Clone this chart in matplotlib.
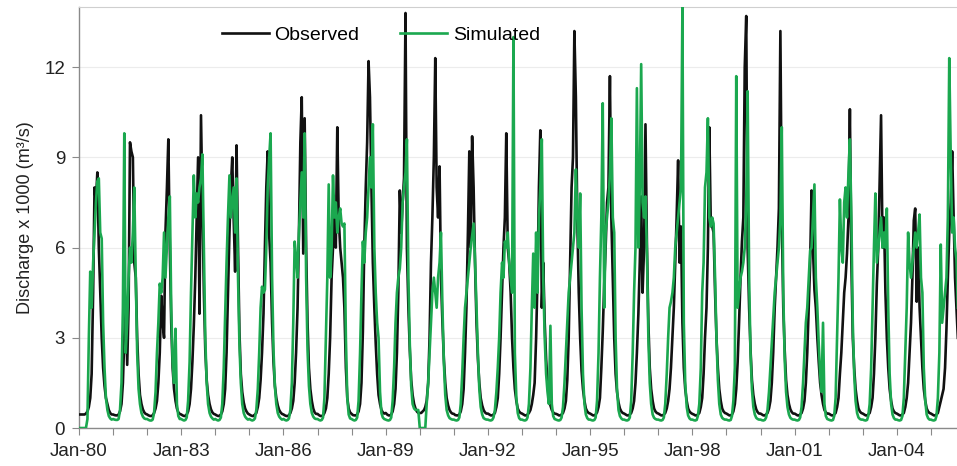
import datetime as dt
import matplotlib
matplotlib.use('Agg')
import matplotlib.pyplot as plt

plt.rcParams['font.family'] = ['Liberation Sans', 'DejaVu Sans']

# discharge x 1000 m3/s, one row per year, values on the 1st and 16th of each month
years = list(range(1980, 2006))

observed = [
    [0.45,0.45,0.45,0.45,0.45,0.48,0.55,0.7,1.0,1.8,4.5,8.0,7.5,8.5,6.0,4.5,3.0,2.0,1.4,1.0,0.8,0.6,0.5,0.45],
    [0.45,0.43,0.42,0.42,0.45,0.55,0.8,1.5,3.0,4.3,2.1,4.0,9.5,9.2,9.0,5.5,5.0,3.0,1.8,1.1,0.8,0.62,0.52,0.47],
    [0.45,0.42,0.4,0.4,0.42,0.5,0.65,0.9,1.5,2.5,4.4,3.5,3.0,6.5,8.0,9.6,6.0,3.5,2.0,1.3,0.9,0.65,0.52,0.47],
    [0.45,0.42,0.4,0.4,0.45,0.55,0.8,1.3,2.2,3.4,5.0,7.0,9.0,3.8,10.4,7.5,4.5,2.6,1.6,1.1,0.8,0.62,0.52,0.47],
    [0.45,0.42,0.4,0.4,0.45,0.55,0.8,1.3,2.5,4.5,6.5,8.0,9.0,7.0,5.2,9.4,6.0,3.2,1.8,1.2,0.85,0.65,0.55,0.48],
    [0.45,0.42,0.4,0.4,0.45,0.5,0.7,1.0,1.6,2.5,3.8,6.0,8.0,9.2,6.4,5.5,3.5,2.2,1.4,1.0,0.75,0.6,0.52,0.47],
    [0.45,0.42,0.4,0.4,0.42,0.5,0.65,0.9,1.5,2.5,4.0,6.5,9.5,11.0,5.8,10.3,6.0,3.5,2.0,1.3,0.9,0.65,0.52,0.47],
    [0.47,0.43,0.4,0.4,0.42,0.5,0.65,1.0,1.8,3.0,5.0,6.0,7.0,6.0,10.0,7.0,6.0,5.5,5.0,4.0,2.0,1.0,0.65,0.52],
    [0.47,0.43,0.42,0.42,0.45,0.55,0.8,1.5,3.2,6.0,8.0,9.5,12.2,11.0,8.0,5.5,4.0,2.8,1.8,1.1,0.8,0.6,0.52,0.48],
    [0.5,0.45,0.42,0.42,0.45,0.55,0.8,1.3,2.5,4.5,7.9,6.5,7.5,8.3,13.8,6.0,4.0,2.6,1.6,1.1,0.8,0.65,0.55,0.5],
    [0.5,0.5,0.55,0.6,0.7,0.9,1.5,3.0,5.5,7.0,9.0,12.3,8.0,7.0,8.7,5.0,3.5,2.3,1.5,1.0,0.75,0.6,0.52,0.48],
    [0.47,0.43,0.42,0.42,0.45,0.55,0.8,1.3,2.5,4.0,6.5,9.2,6.0,9.7,8.0,5.5,3.5,2.3,1.5,1.0,0.75,0.6,0.52,0.48],
    [0.48,0.45,0.42,0.42,0.45,0.5,0.7,1.0,1.8,3.0,4.5,6.0,7.0,9.8,6.0,5.5,4.5,3.0,2.0,1.3,0.9,0.65,0.55,0.5],
    [0.48,0.45,0.42,0.42,0.45,0.5,0.6,0.8,1.1,1.5,3.0,5.0,8.0,9.9,4.0,5.5,3.5,2.3,1.5,1.0,0.75,0.6,0.52,0.48],
    [0.47,0.45,0.42,0.42,0.45,0.5,0.65,0.9,1.6,3.0,5.5,8.0,9.0,13.2,11.0,7.0,4.5,3.0,1.9,1.3,0.9,0.65,0.55,0.5],
    [0.48,0.45,0.42,0.42,0.45,0.52,0.7,1.0,2.0,3.2,4.8,6.0,7.5,8.0,11.7,7.0,5.0,3.0,1.8,1.2,0.85,0.65,0.55,0.5],
    [0.48,0.45,0.42,0.42,0.45,0.5,0.65,0.9,1.5,2.5,3.8,5.5,7.7,4.5,6.0,10.1,6.0,3.5,2.0,1.3,0.9,0.65,0.55,0.5],
    [0.48,0.45,0.42,0.42,0.45,0.5,0.65,0.9,1.3,2.0,3.0,4.0,5.5,7.0,8.9,5.5,6.7,3.5,2.0,1.3,0.9,0.65,0.55,0.5],
    [0.47,0.45,0.42,0.42,0.45,0.5,0.7,1.0,1.8,3.0,4.0,6.0,10.0,7.0,6.7,6.5,4.5,3.0,2.0,1.3,0.9,0.65,0.55,0.5],
    [0.48,0.45,0.42,0.42,0.45,0.55,0.8,1.3,2.2,3.5,5.0,6.2,7.0,12.0,13.7,6.0,4.0,2.6,1.6,1.1,0.8,0.62,0.53,0.48],
    [0.48,0.45,0.42,0.42,0.45,0.5,0.65,0.9,1.5,2.5,4.0,5.0,6.0,7.3,13.2,7.0,4.0,2.6,1.6,1.1,0.8,0.62,0.53,0.48],
    [0.48,0.45,0.42,0.42,0.45,0.5,0.65,0.9,1.5,2.5,4.0,5.5,7.9,6.0,4.6,4.0,3.0,2.2,1.5,1.1,0.8,0.6,0.52,0.48],
    [0.48,0.45,0.42,0.42,0.45,0.5,0.7,1.0,1.8,2.5,3.5,4.5,5.0,5.8,7.0,10.6,5.5,3.0,2.0,1.3,0.9,0.65,0.55,0.5],
    [0.48,0.45,0.42,0.42,0.45,0.5,0.7,1.0,1.8,3.0,4.8,6.0,8.2,10.4,6.0,7.0,4.5,3.0,2.0,1.3,0.9,0.65,0.55,0.5],
    [0.48,0.45,0.42,0.42,0.45,0.5,0.7,1.0,1.5,2.5,3.5,5.0,6.9,7.3,4.2,6.0,4.0,3.0,2.0,1.3,0.9,0.65,0.55,0.5],
    [0.48,0.45,0.42,0.42,0.45,0.5,0.7,0.9,1.1,1.3,2.0,3.3,5.0,6.5,7.5,9.2,7.0,5.0,4.0,3.0],
]

simulated = [
    [0,0,0,0,0,0,0.3,3.0,5.2,4.0,5.5,6.5,7.5,8.2,8.3,6.5,6.3,3.5,2.0,1.0,0.6,0.4,0.32,0.28],
    [0.3,0.28,0.27,0.27,0.3,0.6,1.5,4.0,9.8,2.5,3.5,5.0,6.0,5.5,6.5,8.0,5.0,2.5,1.3,0.8,0.5,0.38,0.32,0.3],
    [0.3,0.27,0.25,0.25,0.28,0.5,1.2,2.5,3.5,4.8,4.5,5.0,6.5,5.0,6.0,7.0,7.7,4.0,2.2,1.5,3.3,0.8,0.4,0.3],
    [0.3,0.27,0.25,0.27,0.35,0.9,2.2,4.5,6.5,8.4,7.0,7.8,7.5,8.0,8.3,9.1,6.0,3.0,1.5,0.8,0.5,0.38,0.32,0.28],
    [0.3,0.27,0.25,0.27,0.35,0.8,2.0,3.8,5.5,7.0,8.4,7.0,7.5,8.0,6.5,8.3,5.0,2.8,1.5,0.8,0.5,0.38,0.32,0.28],
    [0.3,0.27,0.25,0.27,0.32,0.6,1.3,2.5,4.0,4.7,4.5,4.6,6.0,8.0,9.0,9.8,5.0,2.6,1.4,0.8,0.5,0.38,0.32,0.28],
    [0.3,0.27,0.25,0.27,0.32,0.6,1.5,3.5,6.2,5.7,5.0,6.5,7.5,8.5,7.0,9.8,5.0,2.6,1.4,0.8,0.5,0.38,0.32,0.3],
    [0.3,0.27,0.25,0.27,0.35,1.0,3.0,5.0,8.1,5.0,6.0,8.4,7.0,7.5,6.5,7.0,7.3,6.8,6.7,6.8,3.0,1.0,0.45,0.32],
    [0.3,0.27,0.25,0.27,0.35,0.9,2.5,4.5,6.2,5.5,6.5,7.0,8.0,9.0,8.0,10.1,6.0,4.5,3.5,3.0,1.2,0.5,0.35,0.3],
    [0.28,0.26,0.25,0.27,0.35,0.9,2.0,3.5,4.5,5.0,5.3,6.0,7.5,8.0,8.5,9.6,5.0,2.8,1.4,0.8,0.65,0.6,0.6,0.6],
    [0,0,0,0,0,0.8,1.5,2.5,3.5,4.5,5.0,4.5,4.0,5.0,5.5,6.5,4.0,2.2,1.1,0.6,0.42,0.33,0.3,0.28],
    [0.28,0.26,0.25,0.27,0.35,0.8,1.8,3.0,4.0,4.5,5.0,5.5,6.0,6.4,6.8,5.6,4.0,2.5,1.3,0.7,0.45,0.33,0.3,0.28],
    [0.28,0.26,0.25,0.27,0.35,0.6,1.2,2.0,3.0,4.5,5.5,5.0,6.2,6.0,6.5,5.5,5.0,4.5,13.0,2.5,1.0,0.5,0.33,0.28],
    [0.28,0.26,0.25,0.27,0.35,0.8,2.0,4.0,5.8,4.0,6.5,4.5,7.0,8.0,9.6,5.0,3.0,1.8,1.2,0.8,3.4,0.8,0.4,0.3],
    [0.28,0.26,0.25,0.27,0.35,0.7,1.5,2.5,3.5,4.5,5.0,5.5,6.0,6.5,8.6,7.0,6.0,7.8,4.0,1.8,0.8,0.45,0.33,0.28],
    [0.28,0.26,0.25,0.27,0.35,0.9,2.5,5.0,7.0,10.8,4.0,6.5,7.0,7.5,8.5,10.3,7.0,6.5,3.0,1.3,0.6,0.4,0.32,0.28],
    [0.28,0.26,0.25,0.27,0.35,0.9,2.5,4.5,6.0,11.3,6.0,8.0,12.1,7.5,7.0,7.7,5.8,3.0,1.5,0.8,0.45,0.34,0.3,0.28],
    [0.28,0.26,0.25,0.27,0.35,0.8,1.8,3.0,4.0,4.2,4.5,5.0,6.0,6.5,7.0,7.5,8.0,14.0,3.5,1.5,0.7,0.42,0.32,0.28],
    [0.28,0.26,0.25,0.27,0.4,0.8,2.0,4.5,5.5,8.0,8.5,10.3,7.0,6.7,7.0,6.8,5.0,3.0,1.6,0.8,0.45,0.34,0.3,0.28],
    [0.28,0.26,0.25,0.27,0.4,0.9,2.0,11.7,4.0,4.5,5.0,5.2,5.5,6.0,7.5,11.2,5.0,2.5,1.3,0.7,0.45,0.34,0.3,0.28],
    [0.28,0.26,0.25,0.27,0.35,0.6,1.2,2.0,2.8,3.6,4.5,5.0,5.5,6.0,7.0,10.0,4.5,2.3,1.2,0.7,0.45,0.34,0.3,0.28],
    [0.28,0.26,0.25,0.27,0.35,0.7,1.5,2.5,3.5,4.0,5.0,5.9,6.0,7.0,8.1,5.0,4.0,2.8,1.8,1.2,3.5,0.8,0.4,0.3],
    [0.28,0.26,0.25,0.27,0.4,1.0,3.0,5.0,7.6,6.0,5.5,7.5,8.0,7.0,8.5,9.6,7.0,3.5,1.8,0.9,0.5,0.35,0.3,0.28],
    [0.28,0.26,0.25,0.27,0.4,0.8,2.0,4.0,6.0,7.8,5.5,6.0,6.5,7.0,6.0,6.5,6.0,7.3,4.0,1.8,0.8,0.45,0.33,0.28],
    [0.28,0.26,0.25,0.27,0.4,1.0,2.5,4.0,6.5,5.5,5.0,5.5,6.0,6.5,6.0,6.5,7.1,5.0,4.5,2.0,0.9,0.45,0.33,0.28],
    [0.28,0.26,0.25,0.27,0.4,1.0,2.5,6.1,3.5,4.0,4.5,5.0,7.0,12.3,9.0,6.5,7.0,6.0,5.6,4.0],
]

label_years = list(range(1980, 2005, 3))
y_ticks = [0, 3, 6, 9, 12]


def half_month_dates(year, n):
    return [dt.date(year, i // 2 + 1, 1 if i % 2 == 0 else 16) for i in range(n)]


def flatten(rows):
    t, q = [], []
    for yr, row in zip(years, rows):
        t += half_month_dates(yr, len(row))
        q += row
    return t, q


t_obs, q_obs = flatten(observed)
t_sim, q_sim = flatten(simulated)

fig = plt.figure(figsize=(9.57, 4.66), dpi=100)
ax = fig.add_axes([0.0825, 0.0815, 0.9175, 0.9035])

ax.plot(t_obs, q_obs, color='#111111', lw=1.9, label='Observed', zorder=3)
ax.plot(t_sim, q_sim, color='#1ba84f', lw=1.9, label='Simulated', zorder=4)

ax.set_xlim(dt.date(1980, 1, 1), dt.date(2005, 10, 7))
ax.set_ylim(0, 14)

ax.set_xticks([dt.date(y, 1, 1) for y in years])
ax.set_xticklabels([dt.date(y, 1, 1).strftime('%b-%y') if y in label_years else ''
                    for y in years])
ax.set_yticks(y_ticks)
ax.set_yticklabels([str(v) for v in y_ticks])

ax.yaxis.grid(True, color='#ececec', lw=0.8, zorder=0)
ax.set_axisbelow(True)

for side in ['left', 'bottom']:
    ax.spines[side].set_color('#8a8a8a')
    ax.spines[side].set_linewidth(1.0)
ax.spines['top'].set_color('#cfcfcf')
ax.spines['right'].set_visible(False)

ax.tick_params(axis='both', direction='out', length=5, width=0.8,
               color='#8a8a8a', labelsize=13.5, labelcolor='#222222')
ax.tick_params(axis='y', pad=5)
ax.tick_params(axis='x', pad=6)

ax.set_ylabel('Discharge x 1000 (m³/s)', fontsize=13, color='#222222', labelpad=7)

ax.legend(loc='upper left', bbox_to_anchor=(0.163, 0.955), ncol=2, frameon=False,
          fontsize=14, handlelength=2.4, handletextpad=0.3, columnspacing=2.1,
          borderpad=0, borderaxespad=0)

fig.savefig('out.png', dpi=100)
